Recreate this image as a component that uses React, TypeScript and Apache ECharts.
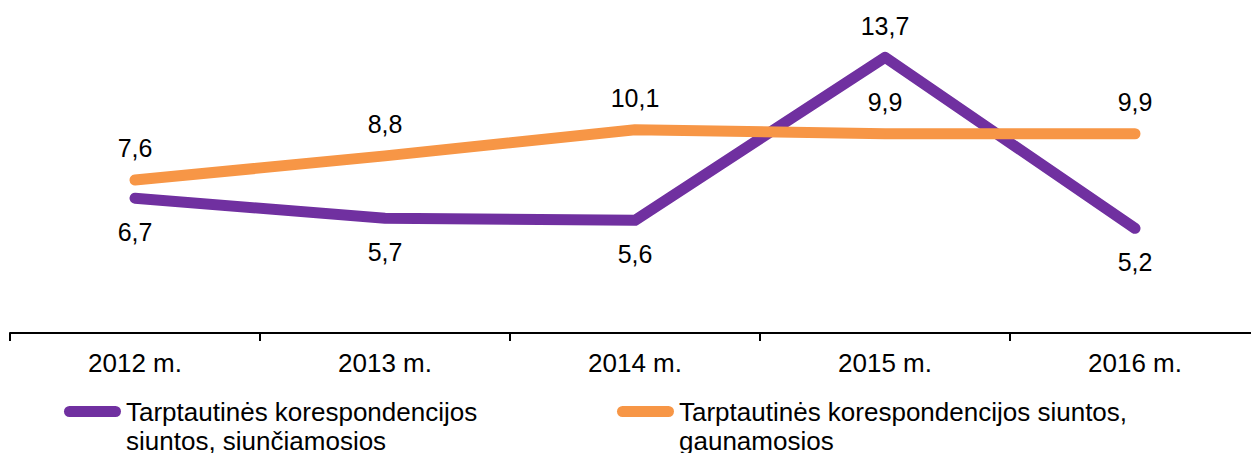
import React, { useEffect, useRef } from "react";
import * as echarts from "echarts";

const categories = ["2012 m.", "2013 m.", "2014 m.", "2015 m.", "2016 m."];
const sentName = "Tarptautinės korespondencijos siuntos, siunčiamosios";
const receivedName = "Tarptautinės korespondencijos siuntos, gaunamosios";
const sentValues = [6.7, 5.7, 5.6, 13.7, 5.2];
const receivedValues = [7.6, 8.8, 10.1, 9.9, 9.9];

const PURPLE = "#7030A0";
const ORANGE = "#F79646";
const FONT = "'Liberation Sans', Arial, sans-serif";

const pillIcon =
  "path://M5.5,0 L51.5,0 A5.5,5.5 0 0 1 51.5,11 L5.5,11 A5.5,5.5 0 0 1 5.5,0 Z";

const fmt = (v: number) => v.toFixed(1).replace(".", ",");

export default function App() {
  const ref = useRef<HTMLDivElement>(null);

  useEffect(() => {
    if (!ref.current) return;
    const chart = echarts.init(ref.current, undefined, { renderer: "svg" });

    const sentData = sentValues.map((v, i) => {
      const above = v > receivedValues[i];
      return {
        value: v,
        label: { position: above ? "top" : "bottom", distance: above ? 18 : 21 },
      };
    });
    const receivedData = receivedValues.map((v) => ({
      value: v,
      label: { position: "top", distance: 19 },
    }));

    const legendText = {
      fontSize: 26,
      lineHeight: 29,
      color: "#000",
      fontFamily: FONT,
    };

    chart.setOption({
      animation: false,
      backgroundColor: "#fff",
      grid: { left: 10, top: 11, width: 1250, height: 322, containLabel: false },
      xAxis: {
        type: "category",
        data: categories,
        boundaryGap: true,
        axisLine: { show: true, lineStyle: { color: "#000", width: 2 } },
        axisTick: { show: true, length: 8, lineStyle: { color: "#000", width: 2 } },
        axisLabel: { color: "#000", fontSize: 26, fontFamily: FONT, margin: 17 },
        splitLine: { show: false },
      },
      yAxis: {
        type: "value",
        min: 0,
        max: 16,
        show: false,
        splitLine: { show: false },
      },
      legend: [
        {
          data: [sentName],
          left: 64,
          top: 368,
          padding: 0,
          icon: pillIcon,
          itemWidth: 57,
          itemHeight: 11,
          formatter: () => "\nTarptautinės korespondencijos\nsiuntos, siunčiamosios",
          textStyle: legendText,
        },
        {
          data: [receivedName],
          left: 617,
          top: 368,
          padding: 0,
          icon: pillIcon,
          itemWidth: 57,
          itemHeight: 11,
          formatter: () => "\nTarptautinės korespondencijos siuntos,\ngaunamosios",
          textStyle: legendText,
        },
      ],
      series: [
        {
          name: sentName,
          type: "line",
          data: sentData,
          symbol: "circle",
          symbolSize: 1,
          showSymbol: true,
          itemStyle: { color: PURPLE },
          lineStyle: { color: PURPLE, width: 11, cap: "round", join: "round" },
          label: {
            show: true,
            fontSize: 25,
            color: "#000",
            fontFamily: FONT,
            formatter: (p: any) => fmt(p.value),
          },
          z: 2,
        },
        {
          name: receivedName,
          type: "line",
          data: receivedData,
          symbol: "circle",
          symbolSize: 1,
          showSymbol: true,
          itemStyle: { color: ORANGE },
          lineStyle: { color: ORANGE, width: 11, cap: "round", join: "round" },
          label: {
            show: true,
            fontSize: 25,
            color: "#000",
            fontFamily: FONT,
            formatter: (p: any) => fmt(p.value),
          },
          z: 3,
        },
      ],
    });

    return () => chart.dispose();
  }, []);

  return (
    <div
      style={{
        position: "absolute",
        left: 0,
        top: 0,
        width: 1251,
        height: 453,
        overflow: "hidden",
        background: "#fff",
      }}
    >
      <div ref={ref} style={{ width: 1262, height: 453 }} />
    </div>
  );
}
